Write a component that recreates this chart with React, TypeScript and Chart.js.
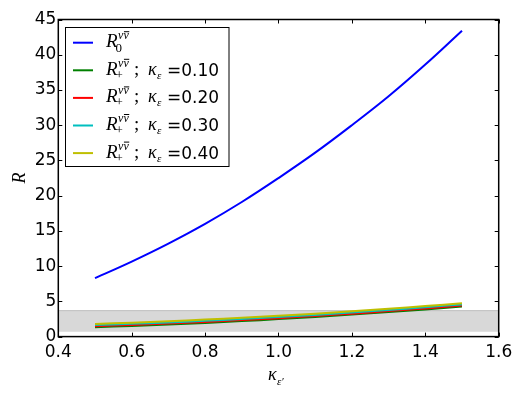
import React, { useEffect, useRef } from "react";
import { Chart, registerables } from "chart.js";
Chart.register(...registerables);

const kappaX = [0.5, 0.6, 0.7, 0.8, 0.9, 1.0, 1.1, 1.2, 1.3, 1.4, 1.5];
const r0 = [8.3, 10.65, 13.2, 16.0, 19.1, 22.5, 26.1, 30.0, 34.1, 38.6, 43.4];
const rPlus010 = [1.33, 1.51, 1.71, 1.94, 2.2, 2.48, 2.78, 3.12, 3.48, 3.86, 4.27];
const rPlus020 = [1.47, 1.65, 1.85, 2.08, 2.34, 2.62, 2.92, 3.26, 3.62, 4.0, 4.41];
const rPlus030 = [1.63, 1.81, 2.01, 2.24, 2.5, 2.78, 3.08, 3.42, 3.78, 4.16, 4.57];
const rPlus040 = [1.8, 1.98, 2.18, 2.41, 2.67, 2.95, 3.25, 3.59, 3.95, 4.33, 4.74];
const bandX = [0.4, 1.6];
const bandLow = [0.8, 0.8];
const bandHigh = [3.68, 3.68];
const xTicks = [0.4, 0.6, 0.8, 1.0, 1.2, 1.4, 1.6];
const yTicks = [0, 5, 10, 15, 20, 25, 30, 35, 40, 45];
const kappaLabels = ["0.10", "0.20", "0.30", "0.40"];
const seriesColors = ["#0000ff", "#008000", "#ff0000", "#00bfbf", "#bfbf00"];

const pts = (xs: number[], ys: number[]) => xs.map((x, i) => ({ x, y: ys[i] }));

function drawR(ctx: CanvasRenderingContext2D, x: number, base: number, sub: string) {
  ctx.font = "italic 19px 'Liberation Serif'";
  ctx.fillText("R", x, base);
  const w = ctx.measureText("R").width;
  const sx = x + w + 0.5;
  ctx.font = "italic 12px 'Liberation Serif'";
  ctx.fillText("νν", sx, base - 8);
  const w1 = ctx.measureText("ν").width;
  const w2 = ctx.measureText("νν").width;
  ctx.fillRect(sx + w1 + 0.5, base - 16, w2 - w1, 1);
  ctx.font = "13px 'Liberation Serif'";
  ctx.fillText(sub, x + w - 2, base + (sub === "0" ? 5 : 4));
}

const decor = {
  id: "decor",
  afterDraw(chart: any) {
    const ctx: CanvasRenderingContext2D = chart.ctx;
    const { left, right, top, bottom } = chart.chartArea;
    const xs = chart.scales.x;
    const ys = chart.scales.y;
    ctx.save();
    ctx.fillStyle = "#000";
    ctx.strokeStyle = "#000";
    ctx.lineWidth = 1;
    ctx.beginPath();
    xTicks.forEach((v) => {
      const px = Math.round(xs.getPixelForValue(v)) + 0.5;
      ctx.moveTo(px, bottom);
      ctx.lineTo(px, bottom - 4);
      ctx.moveTo(px, top);
      ctx.lineTo(px, top + 4);
    });
    yTicks.forEach((v) => {
      const py = Math.round(ys.getPixelForValue(v)) + 0.5;
      ctx.moveTo(left, py);
      ctx.lineTo(left + 4, py);
      ctx.moveTo(right, py);
      ctx.lineTo(right - 4, py);
    });
    ctx.stroke();
    ctx.lineWidth = 1.5;
    ctx.strokeRect(left, top, right - left, bottom - top);

    // legend
    ctx.fillStyle = "#fff";
    ctx.fillRect(65, 27.5, 164, 139);
    ctx.lineWidth = 1;
    ctx.strokeStyle = "#000";
    ctx.strokeRect(65.5, 27.5, 163.5, 139);
    for (let i = 0; i < 5; i++) {
      const cy = 42.7 + i * 27.6;
      ctx.strokeStyle = seriesColors[i];
      ctx.lineWidth = 2;
      ctx.beginPath();
      ctx.moveTo(73, cy);
      ctx.lineTo(93, cy);
      ctx.stroke();
      ctx.fillStyle = "#000";
      ctx.textBaseline = "alphabetic";
      ctx.textAlign = "left";
      const base = cy + 4.5;
      if (i === 0) {
        drawR(ctx, 106, base, "0");
      } else {
        drawR(ctx, 106, base, "+");
        ctx.font = "19px 'Liberation Serif'";
        ctx.fillText(";", 134, base);
        ctx.font = "italic 18px 'Liberation Serif'";
        ctx.fillText("κ", 148, base);
        ctx.font = "italic 11px 'Liberation Serif'";
        ctx.fillText("ε", 157, base + 4);
        ctx.font = "17px 'DejaVu Sans'";
        ctx.fillText("=" + kappaLabels[i - 1], 167, base + 1);
      }
    }

    // axis titles
    ctx.fillStyle = "#000";
    ctx.save();
    ctx.translate(25, 178);
    ctx.rotate(-Math.PI / 2);
    ctx.textAlign = "center";
    ctx.font = "italic 18px 'Liberation Serif'";
    ctx.fillText("R", 0, 0);
    ctx.restore();
    ctx.textAlign = "left";
    ctx.font = "italic 18px 'Liberation Serif'";
    ctx.fillText("κ", 268, 380);
    ctx.font = "italic 11px 'Liberation Serif'";
    ctx.fillText("ε′", 277, 385);
    ctx.restore();
  },
};

export default function App() {
  const ref = useRef<HTMLCanvasElement | null>(null);
  useEffect(() => {
    if (!ref.current) return;
    const tickFont = { family: "'DejaVu Sans'", size: 17 };
    const line = (data: number[], color: string, order: number) => ({
      data: pts(kappaX, data),
      borderColor: color,
      backgroundColor: color,
      borderWidth: 2,
      pointRadius: 0,
      fill: false,
      tension: 0.4,
      order,
    });
    const chart = new Chart(ref.current, {
      type: "line",
      data: {
        datasets: [
          { data: pts(bandX, bandLow), borderColor: "#bdbdbd", borderWidth: 1, pointRadius: 0, fill: false, order: 11 },
          { data: pts(bandX, bandHigh), borderColor: "#bdbdbd", borderWidth: 1, pointRadius: 0, fill: "-1", backgroundColor: "#d8d8d8", order: 10 },
          line(r0, seriesColors[0], 5),
          line(rPlus010, seriesColors[1], 4),
          line(rPlus020, seriesColors[2], 3),
          line(rPlus030, seriesColors[3], 2),
          line(rPlus040, seriesColors[4], 1),
        ] as any,
      },
      options: {
        animation: false,
        responsive: false,
        maintainAspectRatio: false,
        layout: { padding: { top: 19.5, right: 24.3, left: 0, bottom: 0 } },
        plugins: { legend: { display: false }, tooltip: { enabled: false } },
        scales: {
          x: {
            type: "linear",
            min: 0.4,
            max: 1.6,
            afterBuildTicks: (s: any) => {
              s.ticks = xTicks.map((v) => ({ value: v }));
            },
            afterFit: (s: any) => {
              s.height = 57.4;
            },
            grid: { display: false, drawTicks: false },
            border: { display: false },
            ticks: {
              font: tickFont,
              color: "#000",
              padding: 6,
              maxRotation: 0,
              autoSkip: false,
              callback: (v: any) => Number(v).toFixed(1),
            },
          },
          y: {
            type: "linear",
            min: 0,
            max: 45,
            afterBuildTicks: (s: any) => {
              s.ticks = yTicks.map((v) => ({ value: v }));
            },
            afterFit: (s: any) => {
              s.width = 58.3;
            },
            grid: { display: false, drawTicks: false },
            border: { display: false },
            ticks: { font: tickFont, color: "#000", padding: 2, autoSkip: false },
          },
        },
      },
      plugins: [decor],
    });
    return () => chart.destroy();
  }, []);
  return (
    <div style={{ position: "absolute", left: 0, top: 0, width: 523, height: 394, background: "#fff" }}>
      <canvas ref={ref} width={523} height={394} style={{ display: "block" }} />
    </div>
  );
}
